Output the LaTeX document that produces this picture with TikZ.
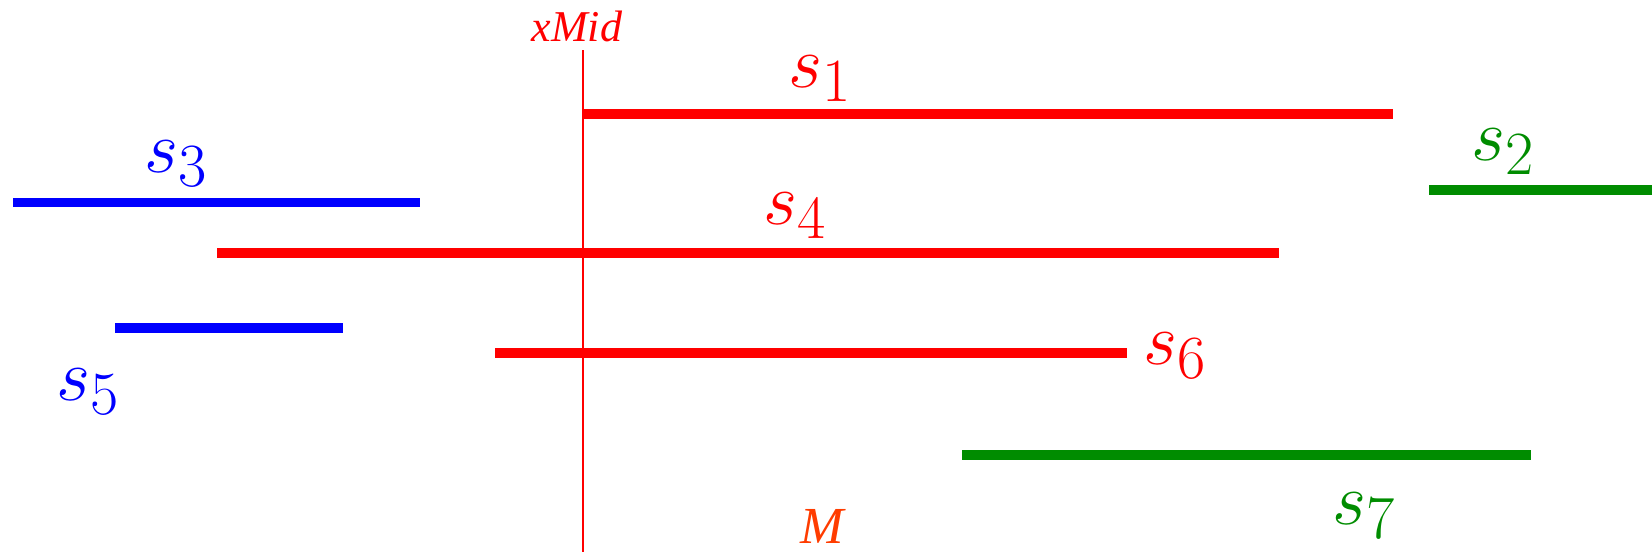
\documentclass[tikz,border=0pt]{standalone}
\usepackage{fontspec}
\usepackage{graphicx}
\newfontfamily\labfont{Liberation Serif}
\newcommand\seglbl[1]{\scalebox{1.48}{$#1$}}
\begin{document}
\begin{tikzpicture}[x=0.5pt,y=-0.5pt,
  seg/.style={line width=4.75pt},
  slab/.style={inner sep=0pt,font=\fontsize{24.88}{27}\selectfont},
  mycolR/.style={color=red},
  mycolB/.style={color=blue},
  mycolG/.style={color=green!55!black}]
\useasboundingbox (0,0) rectangle (1652,552);
\definecolor{morange}{RGB}{255,60,0}
% vertical xMid line
\coordinate (vt) at (583,50);
\coordinate (vb) at (583,552);
\draw[red,line width=1pt] (vt) -- (vb);
\node[inner sep=0pt,text=red,font=\labfont\itshape\fontsize{22}{24}\selectfont] (xmid) at (577,26) {xMid};
\node[inner sep=0pt,text=morange,font=\labfont\itshape\fontsize{26}{28}\selectfont] (M) at (822,526) {M};
% segments
\coordinate (a1) at (583,114); \coordinate (b1) at (1393,114);
\draw[seg,mycolR] (a1) -- (b1);
\node[slab,mycolR] (s1) at (820,79) {\seglbl{s_1}};
\coordinate (a2) at (1429,190); \coordinate (b2) at (1652,190);
\draw[seg,mycolG] (a2) -- (b2);
\node[slab,mycolG] (s2) at (1503,152) {\seglbl{s_2}};
\coordinate (a3) at (13,202.5); \coordinate (b3) at (420,202.5);
\draw[seg,mycolB] (a3) -- (b3);
\node[slab,mycolB] (s3) at (176,164) {\seglbl{s_3}};
\coordinate (a4) at (217,253); \coordinate (b4) at (1279,253);
\draw[seg,mycolR] (a4) -- (b4);
\node[slab,mycolR] (s4) at (795,216) {\seglbl{s_4}};
\coordinate (a5) at (115,328); \coordinate (b5) at (343,328);
\draw[seg,mycolB] (a5) -- (b5);
\node[slab,mycolB] (s5) at (88,392) {\seglbl{s_5}};
\coordinate (a6) at (495,353); \coordinate (b6) at (1127,353);
\draw[seg,mycolR] (a6) -- (b6);
\node[slab,mycolR] (s6) at (1175,356) {\seglbl{s_6}};
\coordinate (a7) at (962,455); \coordinate (b7) at (1531,455);
\draw[seg,mycolG] (a7) -- (b7);
\node[slab,mycolG] (s7) at (1364,516) {\seglbl{s_7}};
\end{tikzpicture}
\end{document}
